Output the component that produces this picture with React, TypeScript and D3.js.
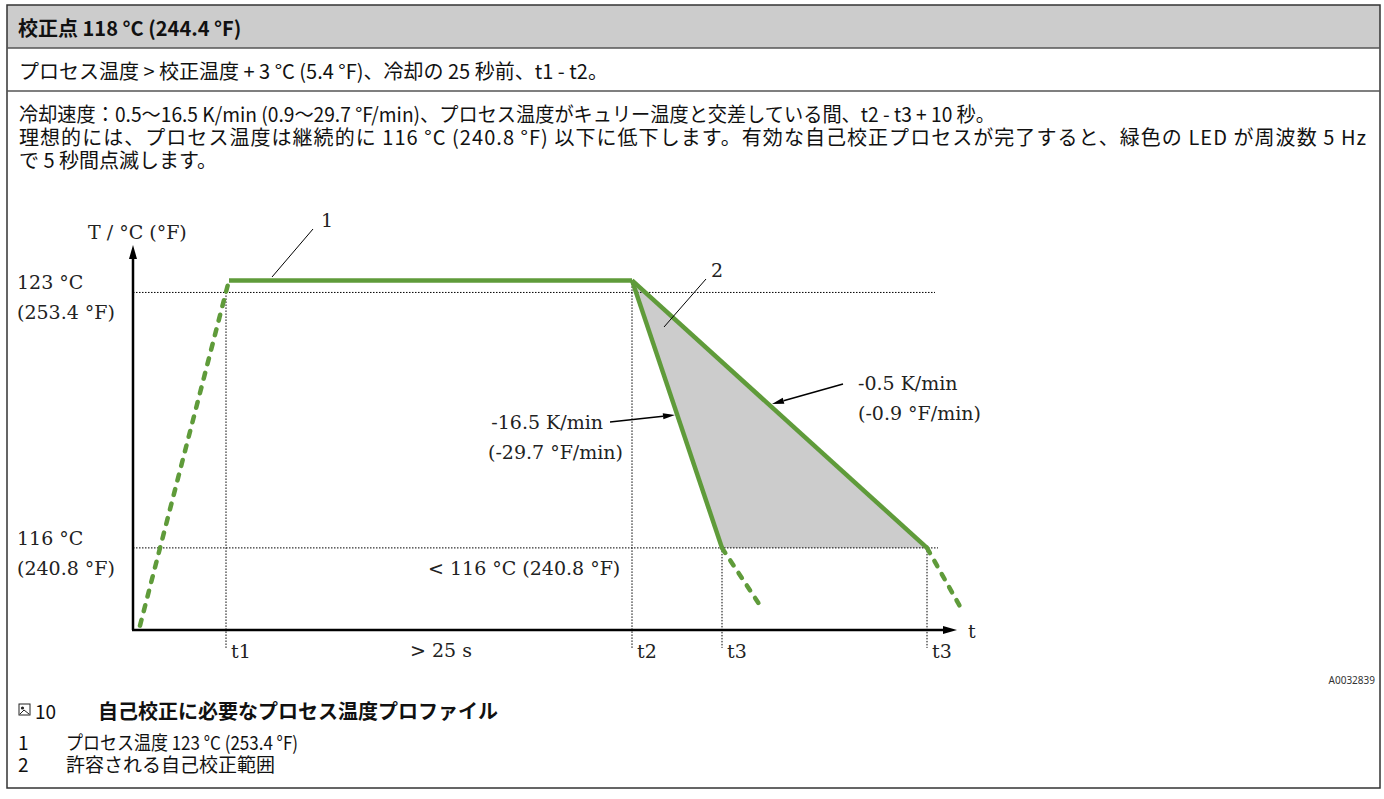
import React from 'react';
import * as d3 from 'd3';

const W = 1384;
const H = 799;

// temperature profile, time in arbitrary seconds, temperature in °C
const rampTime = [0.7, 9.6];
const rampTemp = [113.87, 123.33];
const holdTime = [9.6, 49.9];
const holdTemp = [123.33, 123.33];
const fastTime = [49.9, 58.9];
const fastTemp = [123.33, 116];
const fastTailTime = [58.9, 63.0];
const fastTailTemp = [116, 114.3];
const slowTime = [49.9, 79.4];
const slowTemp = [123.33, 116];
const slowTailTime = [79.4, 82.9];
const slowTailTemp = [116, 114.3];
const bandTime = [49.9, 58.9, 79.4];
const bandTemp = [123.33, 116, 116];

const refTemps = [123, 116];
const refEnds = [80.2, 80.5];
const refLabelsC = ['123 °C', '116 °C'];
const refLabelsF = ['(253.4 °F)', '(240.8 °F)'];

const markNames = ['t1', 't2', 't3', 't3'];
const markTimes = [9.3, 49.9, 58.9, 79.4];
const markTops = [123, 123.33, 116, 116];

const headerText = '校正点 118 °C (244.4 °F)';
const row2Text = 'プロセス温度 > 校正温度 + 3 °C (5.4 °F)、冷却の 25 秒前、t1 - t2。';
const row3Lines = [
  '冷却速度：0.5〜16.5 K/min (0.9〜29.7 °F/min)、プロセス温度がキュリー温度と交差している間、t2 - t3 + 10 秒。',
  '理想的には、プロセス温度は継続的に 116 °C (240.8 °F) 以下に低下します。有効な自己校正プロセスが完了すると、緑色の LED が周波数 5 Hz',
  'で 5 秒間点滅します。',
];
// full line widths (null = natural width)
const row3Widths = [976, 1347, null];
const row3Adjust = ['spacingAndGlyphs', 'spacing', 'spacing'];
const captionTitle = '自己校正に必要なプロセス温度プロファイル';
const legendNums = ['1', '2'];
const legendTexts = ['プロセス温度 123 °C (253.4 °F)', '許容される自己校正範囲'];
const legendWidths = [232, null];

const GREEN = '#5f9b3a';
const SANS = '"Noto Sans CJK JP", "Noto Sans", sans-serif';
const SERIF = '"DejaVu Serif", serif';

const x = d3.scaleLinear().domain([0, 82.4]).range([133, 957]);
const y = d3.scaleLinear().domain([113.75, 124.3]).range([630, 245]);

const path = (ts: number[], vs: number[]) =>
  d3.line<number>().x((d) => x(d)).y((_, i) => y(vs[i]))(ts) as string;

function Arrow({ x1, y1, x2, y2, size = 12, width = 6 }: any) {
  const a = Math.atan2(y2 - y1, x2 - x1);
  const bx = x2 - size * Math.cos(a);
  const by = y2 - size * Math.sin(a);
  const nx = -Math.sin(a) * (width / 2);
  const ny = Math.cos(a) * (width / 2);
  return (
    <g>
      <line x1={x1} y1={y1} x2={bx} y2={by} stroke="#000" strokeWidth={1.5} />
      <polygon points={`${x2},${y2} ${bx + nx},${by + ny} ${bx - nx},${by - ny}`} fill="#000" />
    </g>
  );
}

export default function App() {
  const axisY = y(113.75);
  const belowAxis = 113.26;
  const dashed = { fill: 'none', stroke: GREEN, strokeWidth: 4.5, strokeDasharray: '6 9', strokeLinecap: 'round' as const };
  const solid = { fill: 'none', stroke: GREEN, strokeWidth: 4.5, strokeLinejoin: 'round' as const };
  return (
    <svg width={W} height={H} style={{ position: 'absolute', left: 0, top: 0, background: '#fff' }}>
      {/* table frame */}
      <rect x={7} y={5} width={1373} height={43} fill="#cccccc" />
      <rect x={7} y={5} width={1373} height={783} fill="none" stroke="#333" strokeWidth={1.5} />
      <line x1={7} x2={1380} y1={48} y2={48} stroke="#555" strokeWidth={1.5} />
      <line x1={7} x2={1380} y1={91} y2={91} stroke="#555" strokeWidth={1.5} />

      <text x={18} y={27} dominantBaseline="central" fontFamily={SANS} fontWeight="bold" fontSize={20} fill="#111">
        {headerText}
      </text>
      <text x={19} y={70} dominantBaseline="central" fontFamily={SANS} fontSize={20} fill="#111">
        {row2Text}
      </text>
      {row3Lines.map((t, i) => (
        <text
          key={i}
          x={19}
          y={113 + i * 23}
          dominantBaseline="central"
          fontFamily={SANS}
          fontSize={20}
          fill="#111"
          {...(row3Widths[i] ? { textLength: row3Widths[i], lengthAdjust: row3Adjust[i] } : {})}
        >
          {t}
        </text>
      ))}

      {/* chart */}
      <g>
        <path d={path(bandTime, bandTemp) + 'Z'} fill="#cccccc" />
        {refTemps.map((v, i) => (
          <line key={i} x1={x(0)} x2={x(refEnds[i])} y1={y(v)} y2={y(v)} stroke="#000" strokeWidth={1} strokeDasharray="1.5 1.5" />
        ))}
        {markTimes.map((t, i) => (
          <line key={i} x1={x(t)} x2={x(t)} y1={y(markTops[i])} y2={y(belowAxis)} stroke="#000" strokeWidth={1} strokeDasharray="1.5 1.5" />
        ))}

        {/* axes */}
        <line x1={x(0)} x2={x(0)} y1={axisY} y2={y(124.3) + 12} stroke="#000" strokeWidth={2.5} />
        <polygon points={`${x(0)},${y(124.3)} ${x(0) - 4},${y(124.3) + 14} ${x(0) + 4},${y(124.3) + 14}`} fill="#000" />
        <line x1={x(0) - 1} x2={x(82.4) - 12} y1={axisY} y2={axisY} stroke="#000" strokeWidth={2.5} />
        <polygon points={`${x(82.4)},${axisY} ${x(82.4) - 14},${axisY - 4} ${x(82.4) - 14},${axisY + 4}`} fill="#000" />

        {/* profile */}
        <path d={path(rampTime, rampTemp)} {...dashed} />
        <path d={path(fastTailTime, fastTailTemp)} {...dashed} />
        <path d={path(slowTailTime, slowTailTemp)} {...dashed} />
        <path d={path(holdTime, holdTemp)} {...solid} />
        <path d={path(fastTime, fastTemp)} {...solid} />
        <path d={path(slowTime, slowTemp)} {...solid} />

        {/* labels */}
        <g fontFamily={SERIF} fontSize={19} fill="#222" dominantBaseline="central">
          <text x={88} y={232}>T / °C (°F)</text>
          {refTemps.map((v, i) => (
            <g key={i}>
              <text x={17} y={y(v) - 10}>{refLabelsC[i]}</text>
              <text x={17} y={y(v) + 20}>{refLabelsF[i]}</text>
            </g>
          ))}
          {markNames.map((n, i) => (
            <text key={i} x={x(markTimes[i]) + 5} y={651}>{n}</text>
          ))}
          <text x={410} y={650}>&gt; 25 s</text>
          <text x={968} y={631}>t</text>
          <text x={428} y={568}>&lt; 116 °C (240.8 °F)</text>
          <text x={858} y={383}>-0.5 K/min</text>
          <text x={858} y={413}>(-0.9 °F/min)</text>
          <text x={603} y={422} textAnchor="end">-16.5 K/min</text>
          <text x={623} y={452} textAnchor="end">(-29.7 °F/min)</text>
          <text x={321} y={220}>1</text>
          <text x={711} y={270}>2</text>
        </g>
        <line x1={272} y1={277} x2={313} y2={229} stroke="#000" strokeWidth={1} />
        <line x1={706} y1={279} x2={664} y2={327} stroke="#000" strokeWidth={1} />
        <Arrow x1={843} y1={384} x2={772} y2={404} />
        <Arrow x1={610} y1={422} x2={675} y2={415} />
      </g>

      <text x={1375} y={680} textAnchor="end" dominantBaseline="central" fontFamily='"Noto Sans", sans-serif' fontSize={10} fill="#333">
        A0032839
      </text>

      {/* caption */}
      <g>
        <rect x={19} y={704} width={11} height={11} fill="none" stroke="#222" strokeWidth={1} />
        <circle cx={22.5} cy={708} r={1.6} fill="#222" />
        <path d="M20 714 L24 710 L29 714" fill="none" stroke="#222" strokeWidth={1} />
        <text x={35} y={710} dominantBaseline="central" fontFamily={SANS} fontSize={19} fill="#111">10</text>
        <text x={98} y={710} dominantBaseline="central" fontFamily={SANS} fontWeight="bold" fontSize={20} fill="#111">
          {captionTitle}
        </text>
        {legendNums.map((n, i) => (
          <g key={i}>
            <text x={18} y={741 + i * 22} dominantBaseline="central" fontFamily={SANS} fontSize={19} fill="#111">{n}</text>
            <text
              x={66}
              y={741 + i * 22}
              dominantBaseline="central"
              fontFamily={SANS}
              fontSize={19}
              fill="#111"
              {...(legendWidths[i] ? { textLength: legendWidths[i], lengthAdjust: 'spacingAndGlyphs' } : {})}
            >
              {legendTexts[i]}
            </text>
          </g>
        ))}
      </g>
    </svg>
  );
}
